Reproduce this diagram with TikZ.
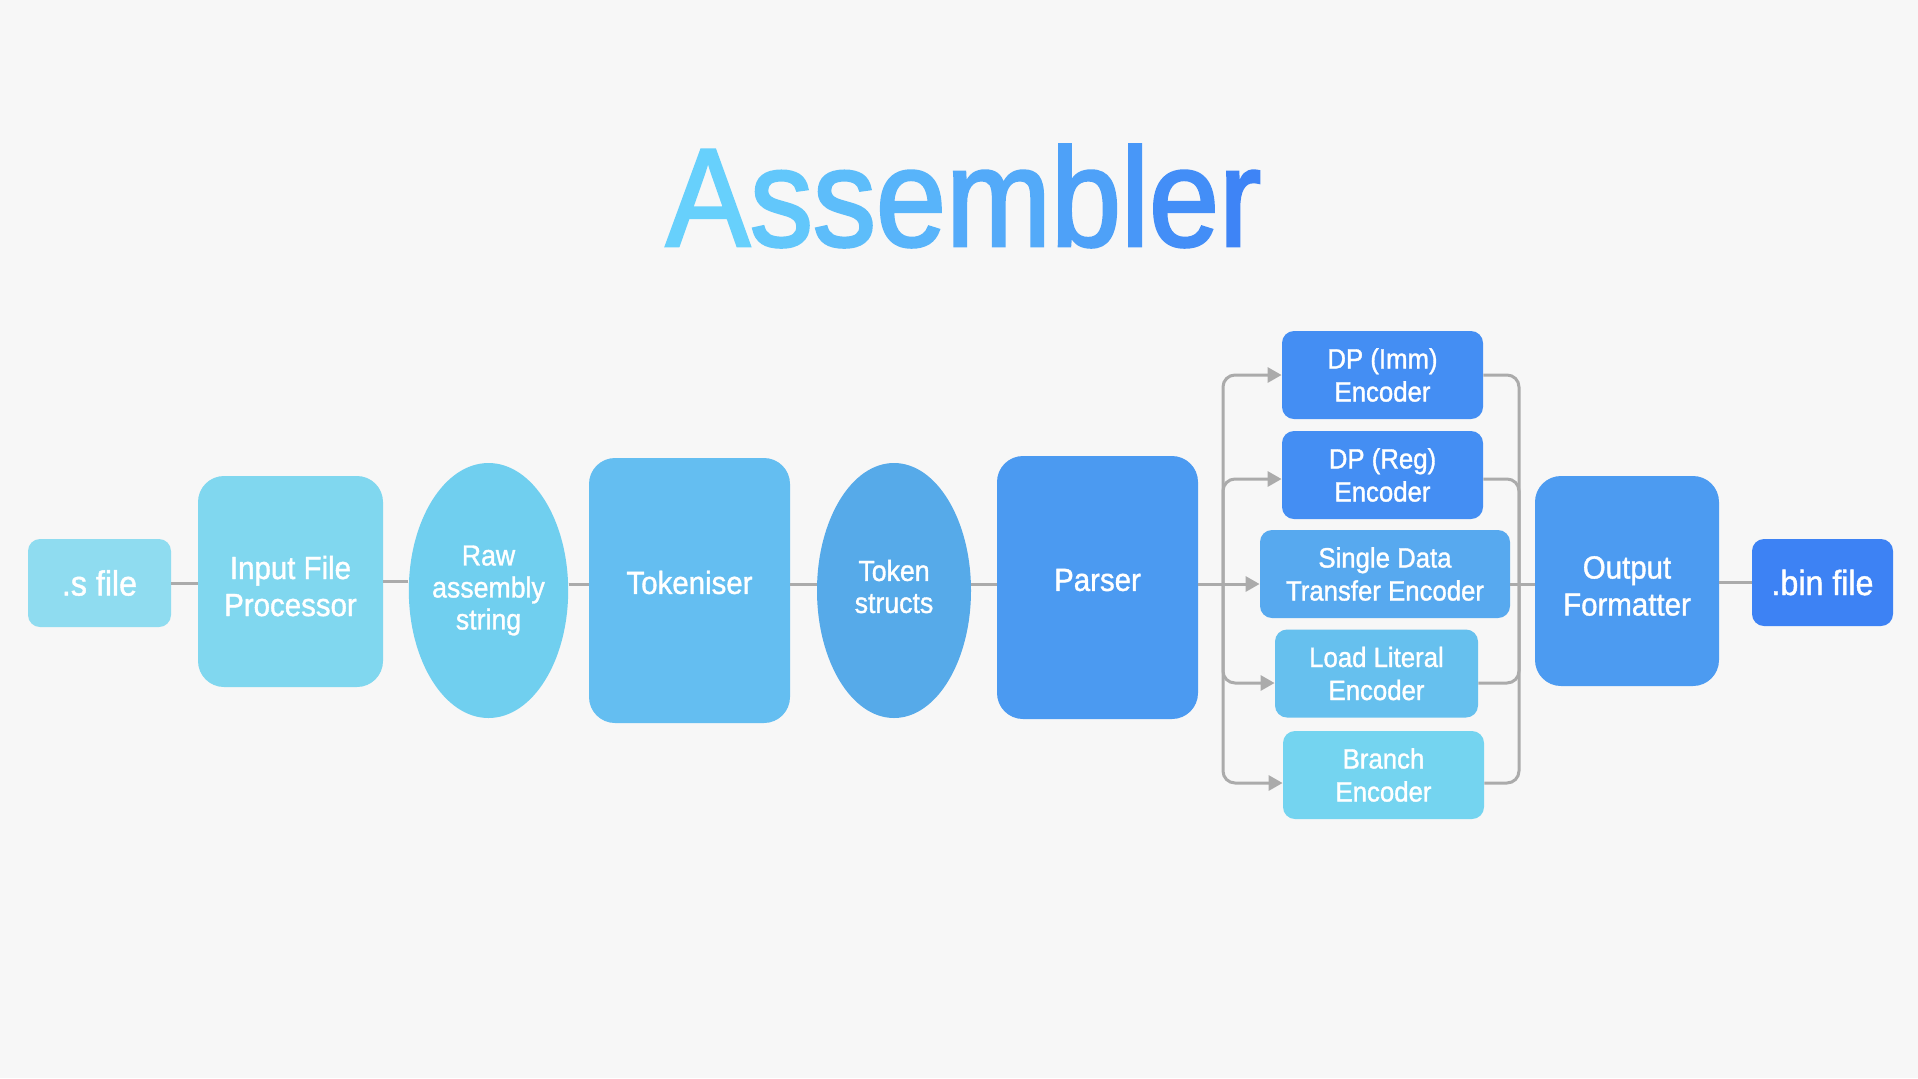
\documentclass[tikz,border=0pt]{standalone}
\usepackage{fontspec}
\setmainfont[FakeStretch=0.92, FakeBold=1.2]{Liberation Sans}
\newfontfamily\titlefont[FakeStretch=0.9, FakeBold=2]{Liberation Sans}
\usepackage{tikz}
\usetikzlibrary{shapes.geometric,arrows.meta,positioning,calc}
\definecolor{bgcolor}{HTML}{F7F7F7}
\definecolor{linecolor}{HTML}{ABABAB}
\definecolor{ttlL}{HTML}{67D0FC}
\definecolor{ttlR}{HTML}{3E84F6}
\definecolor{sfilecolor}{HTML}{8FDCF0}
\definecolor{ifpcolor}{HTML}{80D7EF}
\definecolor{rawcolor}{HTML}{70CFEF}
\definecolor{tokcolor}{HTML}{64BEF1}
\definecolor{structcolor}{HTML}{56AAE9}
\definecolor{parsercolor}{HTML}{4B9AF1}
\definecolor{dpcolor}{HTML}{448EF3}
\definecolor{sdtcolor}{HTML}{57A9EF}
\definecolor{litcolor}{HTML}{66C0EE}
\definecolor{branchcolor}{HTML}{74D4F0}
\definecolor{outcolor}{HTML}{4C9BF1}
\definecolor{bincolor}{HTML}{3D82F4}

\begin{document}
\begin{tikzpicture}[
    x=0.5pt, y=-0.5pt,
    box/.style={rectangle, rounded corners=13pt, text=white, align=center, inner sep=0pt,
        font=\fontsize{16}{18.5}\selectfont},
    smallbox/.style={box, rounded corners=6pt, font=\fontsize{17.5}{20}\selectfont},
    blob/.style={ellipse, text=white, align=center, inner sep=0pt,
        minimum width=77pt, minimum height=127.5pt, font=\fontsize{14.5}{16}\selectfont},
    enc/.style={box, rounded corners=6pt, minimum height=44pt, font=\fontsize{14}{16.5}\selectfont},
    conn/.style={draw=linecolor, line width=1.5pt},
    arr/.style={conn, -{Triangle[length=7pt, width=7.5pt]}},
    % nudge the text inside the tall boxes
    textup/.style={text height=11.7pt, text depth=8.3pt},
    textdown/.style={text height=34.5pt, text depth=0pt}
]
    \fill[bgcolor] (0,0) rectangle (1918,1078);

    % Title
    \node[font=\titlefont\fontsize{70}{80}\selectfont, anchor=base, inner sep=0pt] (title) at (963.5,246)
        {\color{ttlR!0!ttlL}A\color{ttlR!12!ttlL}s\color{ttlR!25!ttlL}s\color{ttlR!37!ttlL}e\color{ttlR!50!ttlL}m\color{ttlR!62!ttlL}b\color{ttlR!75!ttlL}l\color{ttlR!87!ttlL}e\color{ttlR!100!ttlL}r};

    % Main pipeline
    \node[smallbox, fill=sfilecolor, minimum width=71.5pt, minimum height=44pt] (sfile) at (99.5,583) {.s file};
    \node[box, textdown, fill=ifpcolor, minimum width=92.5pt, minimum height=105.5pt] (ifp) at (290.5,581.5) {Input File\\Processor};
    \node[blob, fill=rawcolor] (raw) at (488.5,590.5) {Raw\\assembly\\string};
    \node[box, textup, fill=tokcolor, minimum width=100.5pt, minimum height=132.5pt] (tokeniser) at (689.5,590.5) {Tokeniser};
    \node[blob, text height=22.4pt, text depth=0pt, fill=structcolor] (structs) at (894,590.5) {Token\\structs};
    \node[box, textup, fill=parsercolor, minimum width=100.5pt, minimum height=131.5pt] (parser) at (1097.5,587.5) {Parser};

    % Encoders
    \node[enc, fill=dpcolor, minimum width=100.5pt] (dpimm) at (1382.5,375) {DP (Imm)\\Encoder};
    \node[enc, fill=dpcolor, minimum width=100.5pt] (dpreg) at (1382.5,475) {DP (Reg)\\Encoder};
    \node[enc, fill=sdtcolor, minimum width=125pt] (sdt) at (1385,574) {Single Data\\Transfer Encoder};
    \node[enc, fill=litcolor, minimum width=101.5pt] (lit) at (1376.5,673.5) {Load Literal\\Encoder};
    \node[enc, fill=branchcolor, minimum width=100.5pt] (branch) at (1383.5,775) {Branch\\Encoder};

    % Output side
    \node[box, textdown, fill=outcolor, minimum width=92pt, minimum height=105pt] (outfmt) at (1627,581) {Output\\Formatter};
    \node[smallbox, fill=bincolor, minimum width=70.5pt, minimum height=43.5pt] (bin) at (1822.5,582.5) {.bin file};

    % Pipeline links
    \draw[conn] (sfile.east) -- (sfile.east -| ifp.west);
    \draw[conn] (ifp.east) -- (ifp.east -| raw.west);
    \draw[conn] (raw.east |- 0,584) -- (tokeniser.west |- 0,584);
    \draw[conn] (tokeniser.east |- 0,584) -- (structs.west |- 0,584);
    \draw[conn] (structs.east |- 0,584) -- (parser.west |- 0,584);

    % Split to encoders
    \coordinate (splitL) at (1223,584);
    \coordinate (splitR) at (1519,584);
    \draw[conn] (parser.east |- splitL) -- (splitL);
    \draw[arr] (splitL) -- (splitL -| sdt.west);
    \foreach \e/\dy in {dpimm/0, dpreg/-2, lit/-4.75, branch/-4} {
        \draw[arr, rounded corners=6pt] (splitL) |- ([yshift=\dy pt]\e.west);
        \draw[conn, rounded corners=6pt] ([yshift=\dy pt]\e.east) -| (splitR);
    }
    \draw[conn] (sdt.east |- splitR) -- (splitR -| outfmt.west);
    \draw[conn] (outfmt.east |- bin) -- (bin.west);
\end{tikzpicture}
\end{document}
